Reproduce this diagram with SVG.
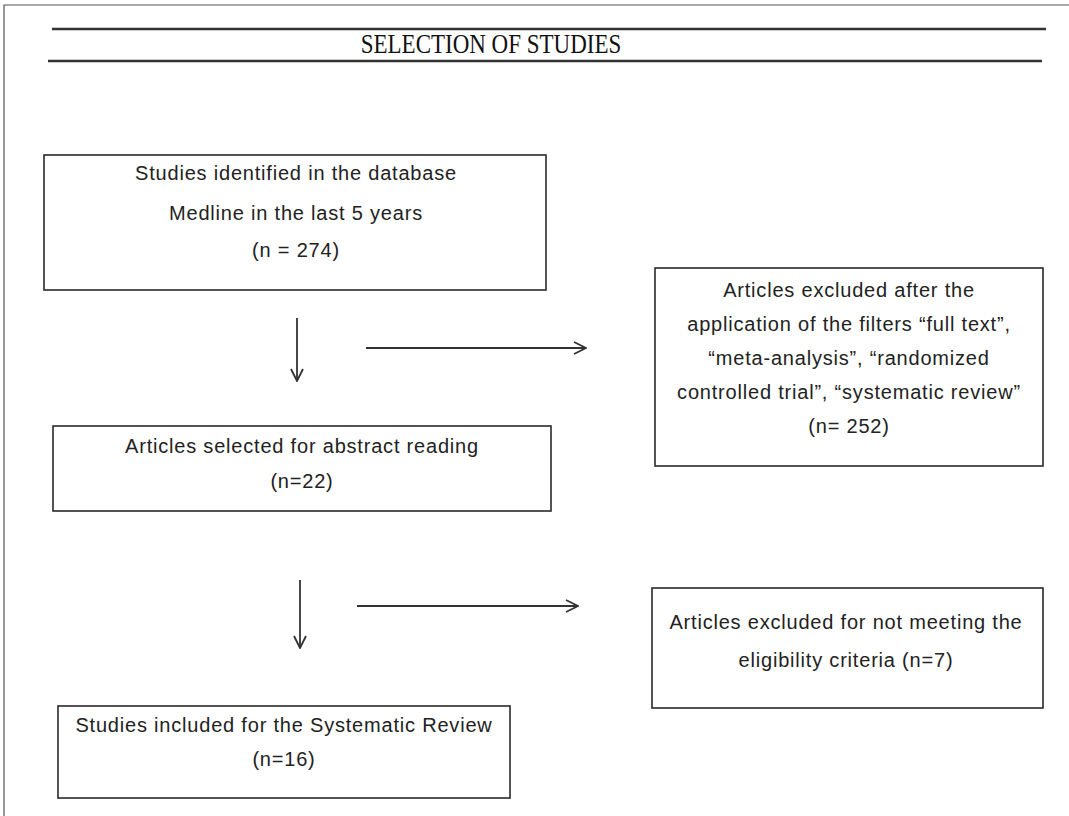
<svg xmlns="http://www.w3.org/2000/svg" width="1069" height="816" viewBox="0 0 1069 816">
<defs>
<style>
.box{fill:#fff;stroke:#2a2a2a;stroke-width:1.6}
.t{font-family:"Liberation Sans",Arial,sans-serif;font-size:20px;letter-spacing:0.8px;fill:#222;text-anchor:middle}
.title{font-family:"Liberation Serif","Times New Roman",serif;font-size:23px;fill:#111;text-anchor:middle}
.rule{stroke:#333;stroke-width:2.6}
.conn{stroke:#333;stroke-width:1.8;fill:none;marker-end:url(#arr)}
</style>
<marker id="arr" viewBox="0 0 14 14" refX="13" refY="7" markerWidth="14" markerHeight="14" markerUnits="userSpaceOnUse" orient="auto">
<path d="M1,1 L13,7 L1,13" fill="none" stroke="#333" stroke-width="1.8"/>
</marker>
</defs>
<rect width="1069" height="816" fill="#fff"/>
<path d="M4,816 V5 H1069" fill="none" stroke="#555" stroke-width="1.2"/>
<g id="title">
<line class="rule" x1="52" y1="29" x2="1046" y2="29"/>
<line class="rule" x1="48" y1="61" x2="1042" y2="61"/>
<text class="title" transform="translate(491,53) scale(1,1.15)">SELECTION OF STUDIES</text>
</g>
<g id="connectors">
<line class="conn" x1="297" y1="318" x2="297" y2="381"/>
<line class="conn" x1="366" y1="348" x2="586" y2="348"/>
<line class="conn" x1="300" y1="580" x2="300" y2="648"/>
<line class="conn" x1="357" y1="606" x2="578" y2="606"/>
</g>
<g id="n1">
<rect class="box" x="44" y="155" width="502" height="135"/>
<text class="t" x="296" y="180">Studies identified in the database</text>
<text class="t" x="296" y="220">Medline in the last 5 years</text>
<text class="t" x="296" y="257">(n = 274)</text>
</g>
<g id="n2">
<rect class="box" x="655" y="268" width="388" height="198"/>
<text class="t" x="849" y="297">Articles excluded after the</text>
<text class="t" x="849" y="331">application of the filters “full text”,</text>
<text class="t" x="849" y="365">“meta-analysis”, “randomized</text>
<text class="t" x="849" y="399">controlled trial”, “systematic review”</text>
<text class="t" x="849" y="433">(n= 252)</text>
</g>
<g id="n3">
<rect class="box" x="53" y="426" width="498" height="85"/>
<text class="t" x="302" y="453">Articles selected for abstract reading</text>
<text class="t" x="302" y="488">(n=22)</text>
</g>
<g id="n4">
<rect class="box" x="652" y="588" width="391" height="120"/>
<text class="t" x="846" y="629">Articles excluded for not meeting the</text>
<text class="t" x="846" y="667">eligibility criteria (n=7)</text>
</g>
<g id="n5">
<rect class="box" x="58" y="706" width="452" height="92"/>
<text class="t" x="284" y="732">Studies included for the Systematic Review</text>
<text class="t" x="284" y="766">(n=16)</text>
</g>
</svg>
